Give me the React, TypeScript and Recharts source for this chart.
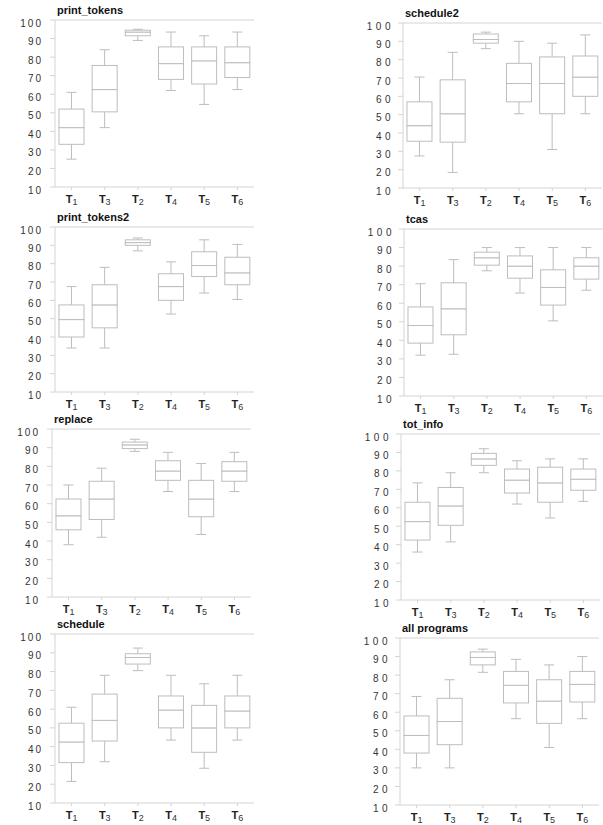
import React from 'react';
import { ComposedChart, Bar, XAxis, YAxis, ReferenceLine } from 'recharts';

// order of the techniques on the x axis
const techniques = ['T1', 'T3', 'T2', 'T4', 'T5', 'T6'];
const yTicks = [10, 20, 30, 40, 50, 60, 70, 80, 90, 100];

// five-number summaries per technique: [min, q1, median, q3, max]
const printTokens = [
  [25, 33, 42, 52, 61],
  [42, 50.5, 62.5, 75.5, 84],
  [89, 91.5, 93.5, 94.5, 95],
  [62, 68, 76.5, 85.5, 93.5],
  [54.5, 65.5, 78, 85.5, 91.5],
  [62.5, 69, 77, 85.5, 93.5]
];
const schedule2 = [
  [27.5, 35.5, 44, 57, 70.5],
  [18.5, 35, 50.5, 69, 84],
  [86, 89, 91, 94, 95],
  [50.5, 57, 67, 78, 90],
  [31, 50.5, 67, 81.5, 89],
  [50.5, 60, 70.5, 82, 93.5]
];
const printTokens2 = [
  [34, 40, 49.5, 57.5, 67.5],
  [34, 45, 57.5, 68.5, 78],
  [87, 90, 91.5, 93, 94],
  [52.5, 60, 67.5, 74.5, 81],
  [64, 73, 79, 86.5, 93],
  [60.5, 68.5, 75, 83.5, 90.5]
];
const tcas = [
  [32, 38.5, 48, 58, 70.5],
  [32.5, 43, 57, 71, 83.5],
  [77.5, 80.5, 84.5, 87.5, 90],
  [65.5, 73.5, 80, 85.5, 90],
  [50.5, 59, 68.5, 78, 90],
  [67, 73, 80, 84.5, 90]
];
const replace = [
  [38, 46, 53.5, 62.5, 70],
  [42, 51.5, 62.5, 72, 79],
  [88, 89.5, 91.5, 93, 94.5],
  [66.5, 72.5, 77.5, 83, 87.5],
  [43.5, 53, 62.5, 72.5, 81.5],
  [66.5, 72, 77.5, 82.5, 87.5]
];
const totInfo = [
  [36, 42.5, 52.5, 63, 73.5],
  [41.5, 50.5, 61, 71, 79],
  [79, 83, 86.5, 89.5, 92],
  [62, 68, 75, 81, 85.5],
  [54.5, 63, 73.5, 82, 86.5],
  [63.5, 69.5, 75.5, 81, 86.5]
];
const schedule = [
  [21.5, 31.5, 42.5, 52.5, 61],
  [32, 43, 54, 68, 78],
  [80.5, 84, 87.5, 89.5, 92.5],
  [43.5, 50, 59.5, 67, 78],
  [28.5, 37, 50, 62, 73.5],
  [43.5, 50, 59, 67, 78]
];
const allPrograms = [
  [30, 38, 47.5, 58, 68.5],
  [30, 42.5, 55, 67.5, 77.5],
  [81.5, 85.5, 89.5, 92.5, 94],
  [56.5, 65, 74.5, 82, 88.5],
  [41, 54, 66, 77.5, 85.5],
  [56.5, 65.5, 75, 82, 90]
];

const panels = [
  { title: 'print_tokens', stats: printTokens, ax: 55, top: 20, bottom: 187, col: 0 },
  { title: 'schedule2', stats: schedule2, ax: 403, top: 23, bottom: 188, col: 1 },
  { title: 'print_tokens2', stats: printTokens2, ax: 55, top: 227, bottom: 392, col: 0 },
  { title: 'tcas', stats: tcas, ax: 404, top: 229, bottom: 396, col: 1 },
  { title: 'replace', stats: replace, ax: 52, top: 429, bottom: 597, col: 0 },
  { title: 'tot_info', stats: totInfo, ax: 401, top: 434, bottom: 600, col: 1 },
  { title: 'schedule', stats: schedule, ax: 55, top: 634, bottom: 803, col: 0 },
  { title: 'all programs', stats: allPrograms, ax: 400, top: 638, bottom: 805, col: 1 }
];

const FONT = '"Liberation Sans", Arial, Helvetica, sans-serif';
const BOX = '#bdbdbd';
const AXIS = '#d4d4d4';
const CAP = 5;

const toRows = (stats: number[][]) =>
  stats.map(([min, q1, med, q3, max], i) => ({
    name: techniques[i],
    base: min,
    lowWhisker: q1 - min,
    lowBox: med - q1,
    highBox: q3 - med,
    highWhisker: max - q3
  }));

const Empty = () => <g />;

const LowWhisker = (p: any) => {
  const cx = p.x + p.width / 2;
  const yb = p.y + p.height;
  return (
    <g stroke={BOX} strokeWidth={1}>
      <line x1={cx} x2={cx} y1={p.y} y2={yb} />
      <line x1={cx - CAP} x2={cx + CAP} y1={yb} y2={yb} />
    </g>
  );
};

const HighWhisker = (p: any) => {
  const cx = p.x + p.width / 2;
  return (
    <g stroke={BOX} strokeWidth={1}>
      <line x1={cx} x2={cx} y1={p.y} y2={p.y + p.height} />
      <line x1={cx - CAP} x2={cx + CAP} y1={p.y} y2={p.y} />
    </g>
  );
};

const BoxPart = (p: any) => (
  <rect x={p.x} y={p.y} width={p.width} height={p.height} fill="#fff" stroke={BOX} strokeWidth={1} />
);

const XTick = (p: any) => {
  const label = String(p.payload.value);
  return (
    <text x={p.x} y={p.y + 11} textAnchor="middle" fontFamily={FONT} fill="#222">
      <tspan fontSize={11} fontWeight="bold">{label[0]}</tspan>
      <tspan fontSize={9} dy={2} fill="#333">{label.slice(1)}</tspan>
    </text>
  );
};

const makeYTick = (spacing: number) => (p: any) => (
  <text
    x={p.x}
    y={p.y + 6.5}
    textAnchor="end"
    fontFamily={FONT}
    fontSize={10}
    fill="#333"
    letterSpacing={spacing}
  >
    {p.payload.value}
  </text>
);

const Panel = ({ panel }: { panel: (typeof panels)[number] }) => {
  const yw = 50;
  const plotW = 199;
  const plotH = panel.bottom - panel.top;
  const mt = 10;
  const xh = 24;
  const rows = toRows(panel.stats);
  return (
    <div style={{ position: 'absolute', left: panel.ax - yw, top: panel.top - mt }}>
      <div
        style={{
          position: 'absolute',
          left: yw + 2,
          top: -6,
          fontFamily: FONT,
          fontSize: 11,
          fontWeight: 'bold',
          lineHeight: '12px',
          color: '#111',
          whiteSpace: 'nowrap'
        }}
      >
        {panel.title}
      </div>
      <ComposedChart
        width={yw + plotW}
        height={mt + plotH + xh}
        data={rows}
        margin={{ top: mt, right: 0, bottom: 0, left: 0 }}
        barCategoryGap="12%"
      >
        <XAxis
          dataKey="name"
          height={xh}
          axisLine={{ stroke: AXIS }}
          tickLine={{ stroke: AXIS }}
          tickSize={3}
          tickMargin={2}
          tick={XTick}
          interval={0}
        />
        <YAxis
          width={yw}
          domain={[10, 100]}
          ticks={yTicks}
          allowDataOverflow
          axisLine={{ stroke: AXIS }}
          tickLine={{ stroke: AXIS }}
          tickSize={5}
          tickMargin={panel.col === 0 ? 7 : 4}
          tick={makeYTick(panel.col === 0 ? 2 : 3.5)}
          interval={0}
        />
        <ReferenceLine y={100} stroke={AXIS} />
        <Bar dataKey="base" stackId="b" shape={Empty} isAnimationActive={false} />
        <Bar dataKey="lowWhisker" stackId="b" shape={LowWhisker} isAnimationActive={false} />
        <Bar dataKey="lowBox" stackId="b" shape={BoxPart} isAnimationActive={false} />
        <Bar dataKey="highBox" stackId="b" shape={BoxPart} isAnimationActive={false} />
        <Bar dataKey="highWhisker" stackId="b" shape={HighWhisker} isAnimationActive={false} />
      </ComposedChart>
    </div>
  );
}

export default function App() {
  return (
    <div
      style={{
        position: 'absolute',
        left: 0,
        top: 0,
        width: 603,
        height: 825,
        overflow: 'hidden',
        background: '#fff'
      }}
    >
      {panels.map((p) => (
        <Panel key={p.title} panel={p} />
      ))}
    </div>
  );
}
